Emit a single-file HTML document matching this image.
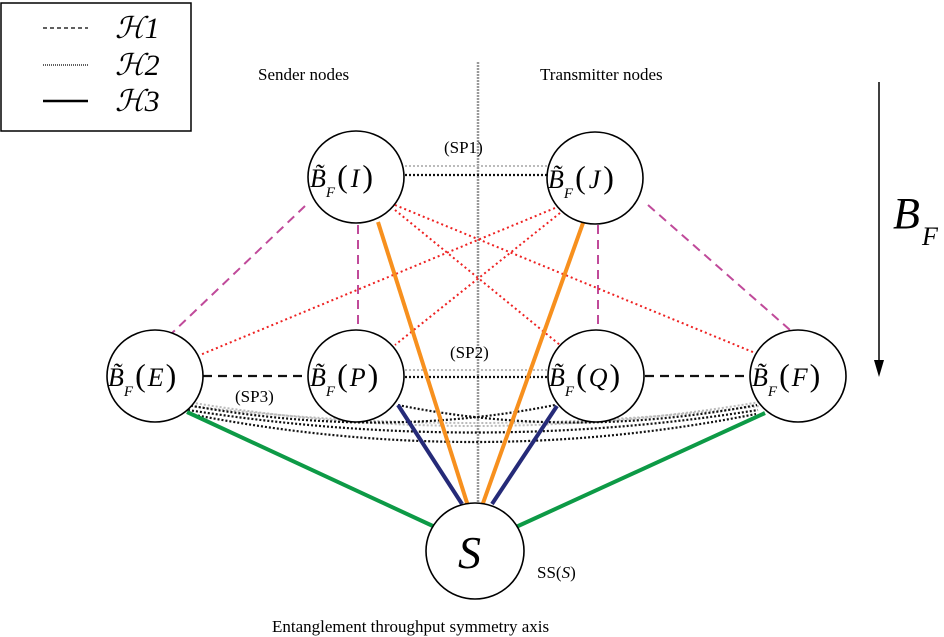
<!DOCTYPE html><html><head><style>body{margin:0;background:#fff}svg{display:block}text{font-family:"Liberation Serif",serif}</style></head><body>
<svg width="944" height="637" viewBox="0 0 944 637" xmlns="http://www.w3.org/2000/svg">
<rect x="1" y="3" width="190" height="128" fill="none" stroke="#000" stroke-width="1.5"/>
<line x1="43" y1="28" x2="88" y2="28" stroke="#000" stroke-width="1.3" stroke-dasharray="4,3"/>
<line x1="43" y1="65" x2="88" y2="65" stroke="#000" stroke-width="1.3" stroke-dasharray="1,1"/>
<line x1="43" y1="101" x2="88" y2="101" stroke="#000" stroke-width="2.5"/>
<g font-size="30" font-style="italic"><text x="115" y="38">ℋ1</text><text x="115" y="75">ℋ2</text><text x="115" y="111">ℋ3</text></g>
<text x="258" y="80" font-size="17">Sender nodes</text>
<text x="540" y="80" font-size="17">Transmitter nodes</text>
<line x1="478" y1="62" x2="478" y2="510" stroke="#999" stroke-width="2.5" stroke-dasharray="2,1"/>
<line x1="879" y1="82" x2="879" y2="370" stroke="#000" stroke-width="1.5"/>
<polygon points="874,360 879,377 884,360" fill="#000"/>
<text x="893" y="228" font-size="44" font-style="italic">B</text><text x="922" y="245" font-size="26" font-style="italic">F</text>
<g stroke="#c04a9a" stroke-width="2" stroke-dasharray="9,6" fill="none">
<line x1="305" y1="206" x2="170" y2="335"/><line x1="358" y1="225" x2="358" y2="330"/>
<line x1="598" y1="225" x2="598" y2="330"/><line x1="648" y1="205" x2="790" y2="330"/>
</g>
<g stroke="#ee2222" stroke-width="2" stroke-dasharray="2,3" fill="none">
<line x1="395" y1="205" x2="760" y2="355"/><line x1="395" y1="210" x2="560" y2="345"/>
<line x1="555" y1="208" x2="200" y2="355"/><line x1="560" y1="213" x2="395" y2="345"/>
</g>
<g stroke="#bbb" stroke-width="2" stroke-dasharray="2,2" fill="none">
<line x1="405" y1="166" x2="547" y2="166"/><line x1="405" y1="370" x2="548" y2="370"/>
<path d="M188,402 Q475,450 760,402"/><path d="M190,406 Q475,440 760,406"/>
</g>
<g stroke="#111" stroke-width="2.2" stroke-dasharray="2,2" fill="none">
<line x1="405" y1="175" x2="547" y2="175"/><line x1="405" y1="377" x2="548" y2="377"/>
<path d="M187,405 Q380,440 555,405"/><path d="M398,405 Q570,440 757,405"/>
<path d="M188,410 Q475,455 758,410"/><path d="M190,414 Q475,470 756,414"/>
</g>
<g stroke="#111" stroke-width="2.2" stroke-dasharray="9,6" fill="none">
<line x1="203" y1="376" x2="308" y2="376"/><line x1="645" y1="376" x2="750" y2="376"/>
</g>
<g stroke-width="4" fill="none">
<line x1="378" y1="222" x2="468" y2="506" stroke="#f7901e"/>
<line x1="583" y1="223" x2="482" y2="506" stroke="#f7901e"/>
<line x1="398" y1="405" x2="462" y2="504" stroke="#252a78"/>
<line x1="557" y1="406" x2="492" y2="504" stroke="#252a78"/>
<line x1="187" y1="412" x2="435" y2="527" stroke="#0d9a46"/>
<line x1="765" y1="413" x2="516" y2="527" stroke="#0d9a46"/>
</g>
<g fill="#fff" stroke="#000" stroke-width="1.6">
<ellipse cx="356" cy="177" rx="48" ry="46"/><ellipse cx="595" cy="178" rx="48" ry="46"/>
<ellipse cx="155" cy="376" rx="48" ry="46"/><ellipse cx="356" cy="376" rx="48" ry="46"/>
<ellipse cx="596" cy="376" rx="48" ry="46"/><ellipse cx="798" cy="376" rx="48" ry="46"/>
<ellipse cx="475" cy="551" rx="49" ry="48"/>
</g>
<g font-size="26" font-style="italic">
<text x="310" y="187">B̃<tspan font-size="15" dy="10">F</tspan><tspan dy="-10" dx="2" font-style="normal" font-size="32">(</tspan><tspan dx="3">I</tspan><tspan dx="3" font-style="normal" font-size="32">)</tspan></text>
<text x="548" y="188">B̃<tspan font-size="15" dy="10">F</tspan><tspan dy="-10" dx="2" font-style="normal" font-size="32">(</tspan><tspan dx="3">J</tspan><tspan dx="3" font-style="normal" font-size="32">)</tspan></text>
<text x="108" y="386">B̃<tspan font-size="15" dy="10">F</tspan><tspan dy="-10" dx="2" font-style="normal" font-size="32">(</tspan><tspan dx="2">E</tspan><tspan dx="2" font-style="normal" font-size="32">)</tspan></text>
<text x="310" y="386">B̃<tspan font-size="15" dy="10">F</tspan><tspan dy="-10" dx="2" font-style="normal" font-size="32">(</tspan><tspan dx="2">P</tspan><tspan dx="2" font-style="normal" font-size="32">)</tspan></text>
<text x="549" y="386">B̃<tspan font-size="15" dy="10">F</tspan><tspan dy="-10" dx="2" font-style="normal" font-size="32">(</tspan><tspan dx="2">Q</tspan><tspan dx="2" font-style="normal" font-size="32">)</tspan></text>
<text x="752" y="386">B̃<tspan font-size="15" dy="10">F</tspan><tspan dy="-10" dx="2" font-style="normal" font-size="32">(</tspan><tspan dx="2">F</tspan><tspan dx="2" font-style="normal" font-size="32">)</tspan></text>
<text x="458" y="568" font-size="46">S</text>
</g>
<g font-size="17"><text x="444" y="153">(SP1)</text><text x="450" y="358">(SP2)</text><text x="235" y="402">(SP3)</text>
<text x="537" y="578">SS(<tspan font-style="italic">S</tspan>)</text>
<text x="272" y="632">Entanglement throughput symmetry axis</text></g>
</svg></body></html>
